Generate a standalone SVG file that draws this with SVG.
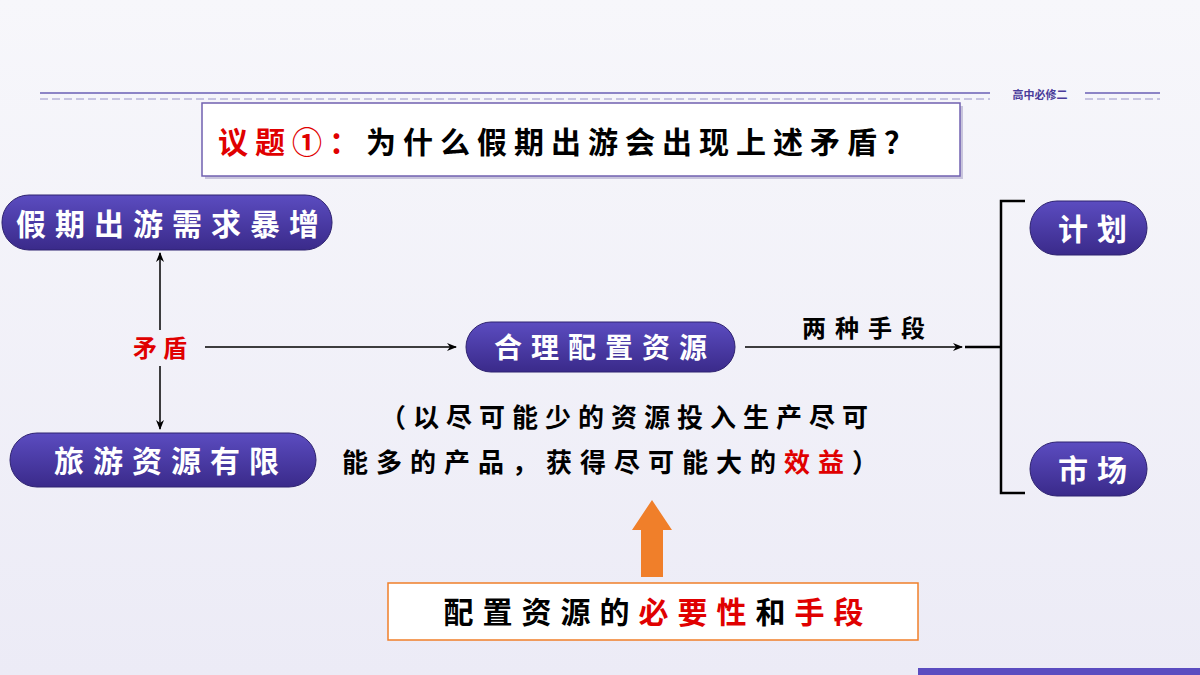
<svg xmlns="http://www.w3.org/2000/svg" width="1200" height="675" viewBox="0 0 1200 675">
<defs>
<linearGradient id="pg" x1="0" y1="0" x2="0" y2="1"><stop offset="0" stop-color="#5b4cc0"/><stop offset="1" stop-color="#3a2a8a"/></linearGradient>
<linearGradient id="bg" x1="0" y1="0" x2="0" y2="1"><stop offset="0" stop-color="#f7f7fb"/><stop offset="1" stop-color="#ecebf6"/></linearGradient>
<marker id="ah" markerWidth="10" markerHeight="8" refX="9" refY="4" orient="auto" markerUnits="userSpaceOnUse"><path d="M0,0 L10,4 L0,8 L3,4 Z" fill="#000"/></marker>
<style>
.pill{fill:url(#pg);stroke:#2e2270;stroke-width:1}
.wt{fill:#fff;font-family:"Noto Sans CJK SC",sans-serif;font-weight:bold;text-anchor:middle;letter-spacing:9px}
.bk{fill:#000;font-family:"Noto Sans CJK SC",sans-serif;font-weight:bold}
.red{fill:#e00000}
.ln{stroke:#000;stroke-width:1.5;fill:none}
</style>
</defs>
<rect width="1200" height="675" fill="url(#bg)"/>
<g id="header">
<line x1="40" y1="93" x2="990" y2="93" stroke="#6a5fb5" stroke-width="1.5"/>
<line x1="40" y1="99" x2="990" y2="99" stroke="#9a94c8" stroke-width="1" stroke-dasharray="8,4"/>
<line x1="1085" y1="93" x2="1160" y2="93" stroke="#6a5fb5" stroke-width="1.5"/>
<line x1="1085" y1="99" x2="1160" y2="99" stroke="#9a94c8" stroke-width="1" stroke-dasharray="8,4"/>
<text x="1040" y="99" font-family="Noto Sans CJK SC,sans-serif" font-size="11" font-weight="bold" fill="#4a3c9a" text-anchor="middle">高中必修二</text>
<rect x="918" y="668" width="282" height="7" fill="#5b4cc0"/>
</g>
<g id="title">
<rect x="205" y="106" width="758" height="73" fill="#c8c4dc"/>
<rect x="202" y="103" width="758" height="73" fill="#fff" stroke="#7060b0" stroke-width="1.5"/>
<text x="218" y="153" font-size="30" class="bk" letter-spacing="7"><tspan class="red">议题①：</tspan>为什么假期出游会出现上述矛盾？</text>
</g>
<g id="connectors">
<line class="ln" x1="160" y1="330" x2="160" y2="253" marker-end="url(#ah)"/>
<line class="ln" x1="160" y1="366" x2="160" y2="429" marker-end="url(#ah)"/>
<line class="ln" x1="205" y1="347" x2="456" y2="347" marker-end="url(#ah)"/>
<line class="ln" x1="745" y1="347" x2="962" y2="347" marker-end="url(#ah)"/>
<line x1="965" y1="347" x2="1000" y2="347" stroke="#000" stroke-width="2.5"/>
<path d="M1025,201 H1001 V493 H1025" stroke="#000" stroke-width="2.5" fill="none"/>
<text x="868" y="337" class="bk" font-size="24" text-anchor="middle" letter-spacing="9">两种手段</text>
<path d="M641,577 V530 H632 L652,500 L672,530 H663 V577 Z" fill="#f07f2a"/>
</g>
<g id="n1"><rect class="pill" x="2" y="195" width="330" height="55" rx="27"/><text class="wt" x="172" y="235" font-size="30">假期出游需求暴增</text></g>
<g id="n2"><text x="163" y="357" class="bk red" font-size="24" text-anchor="middle" letter-spacing="6">矛盾</text></g>
<g id="n3"><rect class="pill" x="10" y="433" width="306" height="54" rx="27"/><text class="wt" x="171" y="472" font-size="30">旅游资源有限</text></g>
<g id="n4"><rect class="pill" x="466" y="322" width="269" height="50" rx="25"/><text class="wt" x="605" y="358" font-size="28" letter-spacing="10">合理配置资源</text></g>
<g id="n5"><text class="bk" font-size="26"><tspan x="380" y="427" letter-spacing="7">（以尽可能少的资源投入生产尽可</tspan><tspan x="342" y="472" letter-spacing="8">能多的产品，获得尽可能大的<tspan class="red">效益</tspan>）</tspan></text></g>
<g id="n6"><rect class="pill" x="1030" y="201" width="117" height="54" rx="27"/><text class="wt" x="1097" y="240" font-size="30" letter-spacing="16">计划</text></g>
<g id="n7"><rect class="pill" x="1030" y="442" width="117" height="54" rx="27"/><text class="wt" x="1097" y="481" font-size="30" letter-spacing="16">市场</text></g>
<g id="n8"><rect x="388" y="583" width="530" height="57" fill="#fff" stroke="#f07f2a" stroke-width="1.5"/><text x="658" y="623" class="bk" font-size="30" text-anchor="middle" letter-spacing="9">配置资源的<tspan class="red">必要性</tspan>和<tspan class="red">手段</tspan></text></g>
</svg>
